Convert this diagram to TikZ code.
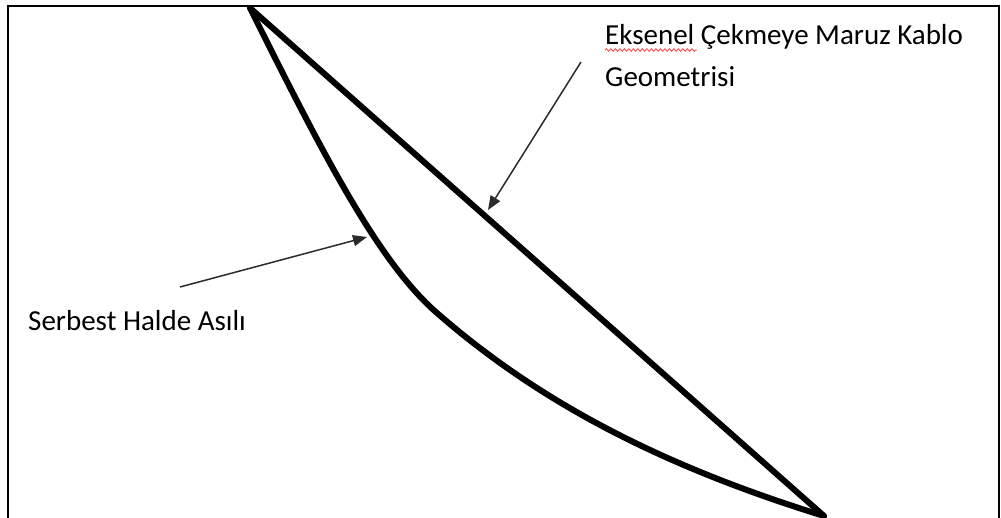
\documentclass[tikz,border=0pt]{standalone}
\usepackage{fontspec}
\setmainfont{Carlito}
\usetikzlibrary{arrows.meta,positioning,decorations.pathmorphing}
\definecolor{ink}{HTML}{2B2B2B}
\definecolor{squiggle}{HTML}{FF4040}

\begin{document}
\begin{tikzpicture}[x=1pt,y=-1pt,>={Triangle[length=14pt,width=11pt]},
 cable/.style={line width=6pt,line cap=round,line join=round},
 pointer/.style={->,draw=ink,line width=1.5pt},
 caption/.style={anchor=base west,inner sep=0pt,font=\fontsize{29}{34}\selectfont}]
 \useasboundingbox (0,0) rectangle (1001,518);
 \draw[line width=2pt] (8,518) -- (8,6) -- (999,6) -- (999,518);
 \coordinate (top) at (250,8);
 \coordinate (bend) at (437,313);
 \coordinate (tip) at (824,516);
 \draw[cable] (top) -- (tip);
 \draw[cable] (top) .. controls (320,148) and (377,261) .. (bend)
   .. controls (547,409) and (674,469.5) .. (tip);
 \node[caption] (eks) at (605,45) {Eksenel Çekmeye Maruz Kablo};
 \node[caption] (geo) at (605,87) {Geometrisi};
 \node[caption] (ser) at (28,331) {Serbest Halde Asılı};
 \draw[squiggle,line width=0.8pt,decorate,decoration={snake,amplitude=1.3pt,segment length=4.5pt}] ([yshift=-5pt]eks.base west) -- ([xshift=92pt,yshift=-5pt]eks.base west);
 \coordinate (axtail) at (581,62);
 \coordinate (axhit) at (488,210);
 \coordinate (sertail) at (180,287);
 \coordinate (serhit) at (367,237);
 \draw[pointer] (axtail) -- (axhit);
 \draw[pointer] (sertail) -- (serhit);
\end{tikzpicture}
\end{document}
